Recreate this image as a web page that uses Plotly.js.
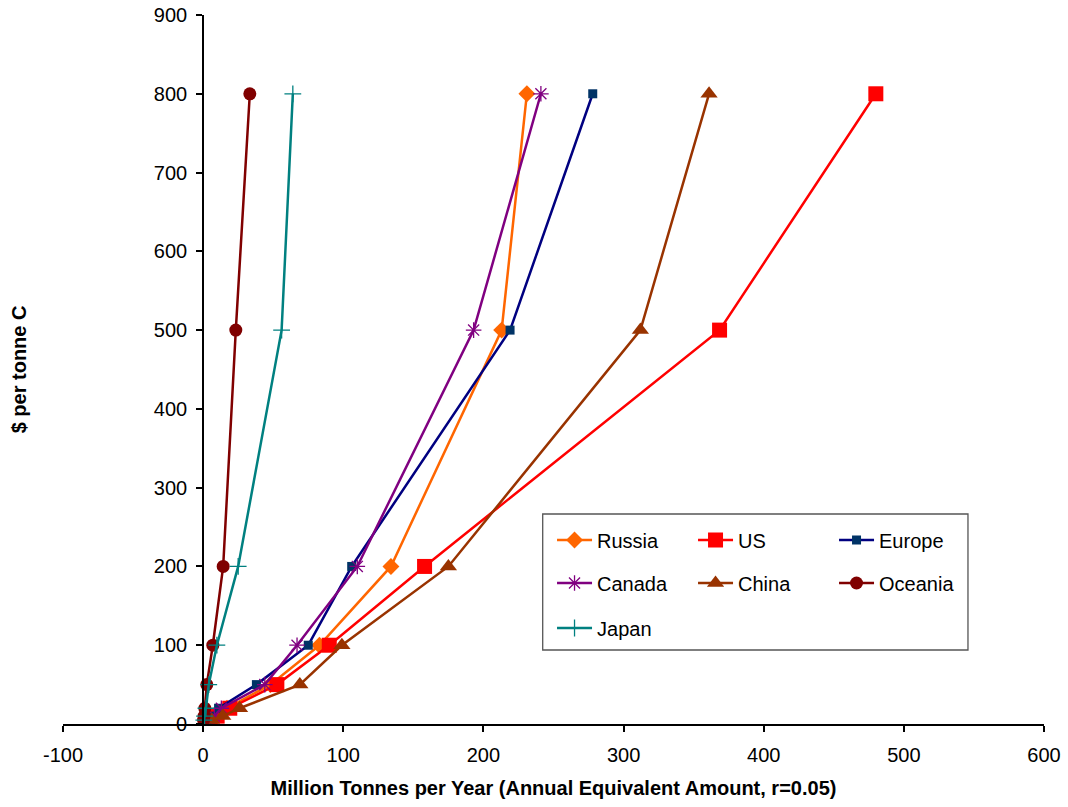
<!DOCTYPE html>
<html>
<head>
<meta charset="utf-8">
<script src="https://cdn.plot.ly/plotly-3.0.1.min.js"></script>
<style>html,body{margin:0;padding:0;background:#fff;}#chart{width:1068px;height:807px;}</style>
</head>
<body>
<div id="chart"></div>
<script>
// $ per tonne C (shared y levels)
const priceLevels = [5, 10, 20, 50, 100, 200, 500, 800];

// Million tonnes per year for each region
const russia  = [5, 9, 17, 48, 83, 134, 213, 231];
const us      = [5, 10, 19, 52.6, 90, 158, 368.5, 480];
const europe  = [3, 6, 11, 38, 75, 106, 219, 278];
const canada  = [4, 8, 13, 44, 67, 110, 193, 241];
const china   = [6, 14, 26, 69, 99, 175, 312, 361];
const oceania = [0.3, 0.7, 1.2, 2.6, 6.9, 14.3, 23.3, 33.3];
const japan   = [0.5, 1, 2, 4, 9.8, 25, 56, 64];

const xTicks = [-100, 0, 100, 200, 300, 400, 500, 600];
const yTicks = [0, 100, 200, 300, 400, 500, 600, 700, 800, 900];

const FONT = 'Liberation Sans, Arial, sans-serif';

function series(name, xs, color, markerColor, symbol, size, legend) {
  return {
    type: 'scatter', mode: 'lines+markers', name: name,
    x: xs, y: priceLevels,
    line: {color: color, width: 2.5},
    marker: {color: markerColor, symbol: symbol, size: size,
             line: {color: markerColor, width: (symbol.indexOf('open') >= 0 ? 1.3 : 0)}},
    legend: legend, hoverinfo: 'skip'
  };
}

const traces = [
  series('Russia', russia, '#FF6600', '#FF6600', 'diamond', 13, 'legend'),
  series('US', us, '#FF0000', '#FF0000', 'square', 15, 'legend'),
  series('Europe', europe, '#000080', '#003366', 'square', 9, 'legend'),
  series('Canada', canada, '#800080', '#800080', 'asterisk-open', 13, 'legend2'),
  series('China', china, '#993300', '#993300', 'triangle-up', 15, 'legend2'),
  series('Oceania', oceania, '#800000', '#800000', 'circle', 13, 'legend2'),
  series('Japan', japan, '#008080', '#008080', 'cross-thin-open', 12, 'legend3')
];

function legendRow(y) {
  return {
    orientation: 'h', x: 0.4985, xanchor: 'left', y: y, yanchor: 'middle',
    bgcolor: 'rgba(0,0,0,0)', borderwidth: 0,
    itemwidth: 35,
    entrywidth: 91, entrywidthmode: 'pixels',
    font: {family: FONT, size: 20, color: '#000'},
    traceorder: 'normal'
  };
}

const layout = {
  width: 1068, height: 807,
  margin: {l: 63, r: 24, t: 15, b: 83},
  paper_bgcolor: '#fff', plot_bgcolor: '#fff',
  font: {family: FONT, size: 20, color: '#000'},
  showlegend: true,
  legend: legendRow(0.2595),
  legend2: legendRow(0.1989),
  legend3: legendRow(0.1354),
  xaxis: {
    range: [-100, 600], tickvals: xTicks, ticktext: xTicks.map(String),
    showgrid: false, zeroline: false,
    showline: true, linecolor: '#000', linewidth: 2,
    ticks: 'outside', ticklen: 6, tickwidth: 2, tickcolor: '#000',
    ticklabelstandoff: 6,
    tickfont: {family: FONT, size: 20},
    title: {text: 'Million Tonnes per Year (Annual Equivalent Amount, r=0.05)',
            font: {family: FONT, size: 20, weight: 'bold'}, standoff: 16},
    fixedrange: true
  },
  yaxis: {
    range: [0, 900], tickvals: yTicks, ticktext: yTicks.map(String),
    anchor: 'free', position: 1/7,
    showgrid: false, zeroline: false,
    showline: true, linecolor: '#000', linewidth: 2,
    ticks: 'outside', ticklen: 6, tickwidth: 2, tickcolor: '#000',
    ticklabelstandoff: 5,
    tickfont: {family: FONT, size: 20},
    fixedrange: true
  },
  annotations: [{
    text: '<b>$ per tonne C</b>', xref: 'paper', yref: 'paper',
    x: -0.045, y: 0.5, xanchor: 'center', yanchor: 'middle',
    textangle: -90, showarrow: false,
    font: {family: FONT, size: 20, color: '#000'}
  }],
  shapes: [{
    type: 'rect', xref: 'paper', yref: 'paper',
    x0: 0.489, x1: 0.9225, y0: 0.1044, y1: 0.2962,
    line: {color: '#555', width: 1.3}, fillcolor: 'rgba(0,0,0,0)', layer: 'below'
  }]
};

Plotly.newPlot('chart', traces, layout, {displayModeBar: false, staticPlot: true});
</script>
</body>
</html>
